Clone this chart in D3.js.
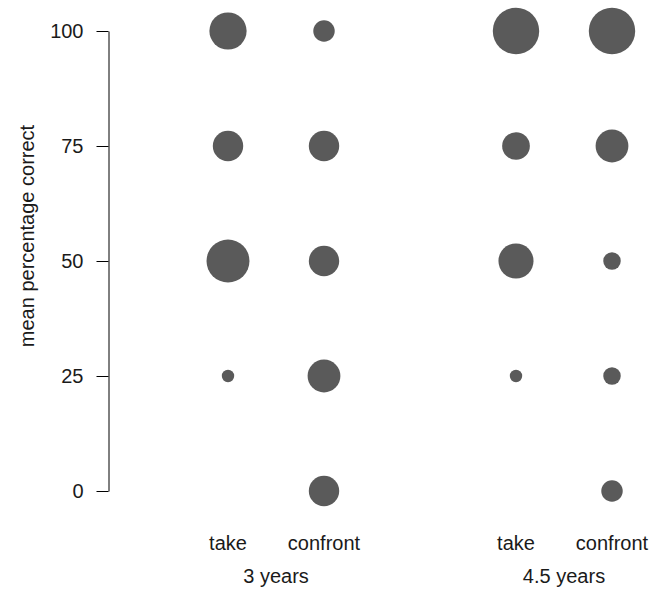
<!DOCTYPE html>
<html>
<head>
<meta charset="utf-8">
<script src="https://cdn.jsdelivr.net/npm/d3@7"></script>
<style>
  body { margin: 0; background: #fff; }
  svg text { font-family: "Liberation Sans", Arial, sans-serif; fill: #1a1a1a; }
</style>
</head>
<body>
<svg id="canvas"></svg>
<script>
let width = 660;
let height = 590;

let groups = ['3 years', '4.5 years'];
let conditions = ['take', 'confront'];
let scores = [0, 25, 50, 75, 100];

// number of children at each score (0, 25, 50, 75, 100)
let take3 = [0, 1, 12, 6, 9];
let confront3 = [6, 7, 6, 6, 3];
let take45 = [0, 1, 8, 5, 14];
let confront45 = [3, 2, 2, 7, 14];

let counts = {
    '3 years': { take: take3, confront: confront3 },
    '4.5 years': { take: take45, confront: confront45 }
};

let values = [];
groups.forEach(g => {
    conditions.forEach(c => {
        counts[g][c].forEach((n, i) => {
            if (n > 0) values.push({ group: g, condition: c, score: scores[i], n: n });
        });
    });
});

let canvas = d3.select('#canvas')
    .attr('width', width)
    .attr('height', height);

let yScale = d3.scaleLinear()
    .domain([0, 100])
    .range([491, 31]);

let xGroup = d3.scalePoint()
    .domain(groups)
    .range([276, 564]);

let xInner = d3.scalePoint()
    .domain(conditions)
    .range([-48, 48]);

let rScale = d3.scaleSqrt()
    .domain([0, 14])
    .range([0, 23.2]);

let xPos = item => xGroup(item.group) + xInner(item.condition);

// bubbles
canvas.selectAll('circle')
    .data(values)
    .enter()
    .append('circle')
    .attr('cx', item => xPos(item))
    .attr('cy', item => yScale(item.score))
    .attr('r', item => rScale(item.n))
    .attr('fill', '#5a5a5a');

// y axis
let yAxis = d3.axisLeft(yScale)
    .tickValues(scores)
    .tickSize(12)
    .tickSizeOuter(0)
    .tickPadding(13);

let yAxisG = canvas.append('g')
    .attr('transform', 'translate(108.5, 0)')
    .call(yAxis);

yAxisG.selectAll('path, line').attr('stroke', '#000').attr('stroke-width', 1);
yAxisG.selectAll('text')
    .attr('font-size', 20)
    .attr('fill', '#1a1a1a')
    .attr('font-family', '"Liberation Sans", Arial, sans-serif');

canvas.append('text')
    .attr('transform', 'translate(34, 236) rotate(-90)')
    .attr('text-anchor', 'middle')
    .attr('font-size', 20)
    .text('mean percentage correct');

// condition labels
groups.forEach(g => {
    conditions.forEach(c => {
        canvas.append('text')
            .attr('x', xGroup(g) + xInner(c))
            .attr('y', 550)
            .attr('text-anchor', 'middle')
            .attr('font-size', 20)
            .text(c);
    });
});

// group labels
canvas.selectAll('.group-label')
    .data(groups)
    .enter()
    .append('text')
    .attr('class', 'group-label')
    .attr('x', g => xGroup(g))
    .attr('y', 583)
    .attr('text-anchor', 'middle')
    .attr('font-size', 20)
    .text(g => g);
</script>
</body>
</html>
